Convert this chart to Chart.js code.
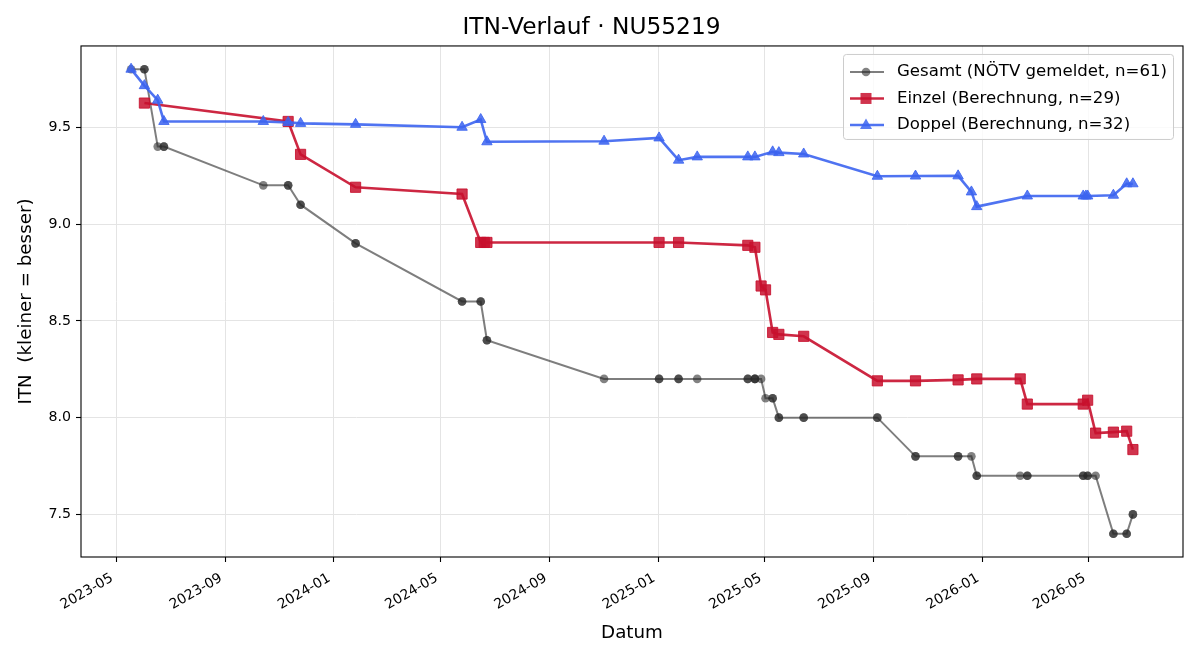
<!DOCTYPE html>
<html>
<head>
<meta charset="utf-8">
<script src="https://cdn.jsdelivr.net/npm/chart.js@4.4.1/dist/chart.umd.min.js"></script>
<style>
  html, body { margin: 0; padding: 0; background: #fff; }
</style>
</head>
<body>
<canvas id="itnChart" width="1200" height="660"></canvas>
<script>
// Gesamt (NÖTV): doppelte Datumswerte = mehrere Meldungen am selben Tag
const gesamtDaten = [
  '2023-05-18', '2023-06-02', '2023-06-02', '2023-06-17', '2023-06-24', '2023-06-24',
  '2023-10-14', '2023-11-11', '2023-11-11', '2023-11-25', '2023-11-25',
  '2024-01-26', '2024-01-26', '2024-05-25', '2024-05-25', '2024-06-15', '2024-06-15',
  '2024-06-22', '2024-06-22', '2024-11-01', '2025-01-02', '2025-01-02',
  '2025-01-24', '2025-01-24', '2025-02-14', '2025-04-12', '2025-04-12',
  '2025-04-20', '2025-04-20', '2025-04-20', '2025-04-27', '2025-05-02',
  '2025-05-10', '2025-05-10', '2025-05-17', '2025-05-17', '2025-06-14', '2025-06-14',
  '2025-09-05', '2025-09-05', '2025-10-18', '2025-10-18', '2025-12-05', '2025-12-05',
  '2025-12-20', '2025-12-26', '2025-12-26', '2026-02-13', '2026-02-21', '2026-02-21',
  '2026-04-25', '2026-04-25', '2026-04-30', '2026-04-30', '2026-05-09',
  '2026-05-29', '2026-05-29', '2026-06-13', '2026-06-13', '2026-06-20', '2026-06-20'
];
const gesamtWerte = [
  9.8, 9.8, 9.8, 9.4, 9.4, 9.4,
  9.2, 9.2, 9.2, 9.1, 9.1,
  8.9, 8.9, 8.6, 8.6, 8.6, 8.6,
  8.4, 8.4, 8.2, 8.2, 8.2,
  8.2, 8.2, 8.2, 8.2, 8.2,
  8.2, 8.2, 8.2, 8.2, 8.1,
  8.1, 8.1, 8.0, 8.0, 8.0, 8.0,
  8.0, 8.0, 7.8, 7.8, 7.8, 7.8,
  7.8, 7.7, 7.7, 7.7, 7.7, 7.7,
  7.7, 7.7, 7.7, 7.7, 7.7,
  7.4, 7.4, 7.4, 7.4, 7.5, 7.5
];

// Einzel (Berechnung)
const einzelDaten = [
  '2023-06-02', '2023-11-11', '2023-11-25', '2024-01-26', '2024-05-25',
  '2024-06-15', '2024-06-19', '2024-06-22', '2025-01-02', '2025-01-24',
  '2025-04-12', '2025-04-20', '2025-04-27', '2025-05-02', '2025-05-10',
  '2025-05-17', '2025-06-14', '2025-09-05', '2025-10-18', '2025-12-05',
  '2025-12-26', '2026-02-13', '2026-02-21', '2026-04-25', '2026-04-30',
  '2026-05-09', '2026-05-29', '2026-06-13', '2026-06-20'
];
const einzelWerte = [
  9.625, 9.53, 9.36, 9.19, 9.155,
  8.905, 8.905, 8.905, 8.905, 8.905,
  8.89, 8.88, 8.68, 8.66, 8.44,
  8.43, 8.42, 8.19, 8.19, 8.195,
  8.2, 8.2, 8.07, 8.07, 8.09,
  7.92, 7.925, 7.93, 7.835
];

// Doppel (Berechnung)
const doppelDaten = [
  '2023-05-18', '2023-06-02', '2023-06-17', '2023-06-24', '2023-10-14',
  '2023-11-11', '2023-11-25', '2024-01-26', '2024-05-25', '2024-06-15',
  '2024-06-22', '2024-11-01', '2025-01-02', '2025-01-24', '2025-02-14',
  '2025-04-12', '2025-04-20', '2025-05-10', '2025-05-17', '2025-06-14',
  '2025-09-05', '2025-10-18', '2025-12-05', '2025-12-20', '2025-12-26',
  '2026-02-21', '2026-04-25', '2026-04-28', '2026-04-30', '2026-05-29',
  '2026-06-13', '2026-06-20'
];
const doppelWerte = [
  9.8, 9.715, 9.64, 9.53, 9.53,
  9.525, 9.52, 9.515, 9.5, 9.54,
  9.425, 9.428, 9.445, 9.33, 9.347,
  9.347, 9.347, 9.373, 9.369, 9.362,
  9.247, 9.248, 9.249, 9.166, 9.09,
  9.145, 9.145, 9.145, 9.145, 9.149,
  9.208, 9.208
];

const xTickLabels = ['2023-05', '2023-09', '2024-01', '2024-05', '2024-09',
  '2025-01', '2025-05', '2025-09', '2026-01', '2026-05'];
const yTicks = [7.5, 8.0, 8.5, 9.0, 9.5];

const FONT = '"DejaVu Sans", sans-serif';
Chart.defaults.font.family = FONT;
Chart.defaults.color = '#000';

function punkte(daten, werte) {
  return daten.map((d, i) => ({ x: Date.parse(d), y: werte[i] }));
}

// Achsengrenzen wie bei matplotlib: 5 % Rand
const alleX = [...gesamtDaten, ...einzelDaten, ...doppelDaten].map(d => Date.parse(d));
const alleY = [...gesamtWerte, ...einzelWerte, ...doppelWerte];
const xMin = Math.min(...alleX), xMax = Math.max(...alleX);
const yMin = Math.min(...alleY), yMax = Math.max(...alleY);
const xRand = (xMax - xMin) * 0.05, yRand = (yMax - yMin) * 0.05;

function monat(v) {
  const d = new Date(v);
  return d.getUTCFullYear() + '-' + String(d.getUTCMonth() + 1).padStart(2, '0');
}

// Rahmen + Legende im Plotbereich
const rahmenUndLegende = {
  id: 'rahmenUndLegende',
  afterDraw(chart) {
    const { ctx, chartArea: a } = chart;
    ctx.save();
    ctx.strokeStyle = '#000';
    ctx.lineWidth = 1.1;
    ctx.strokeRect(a.left, a.top, a.right - a.left, a.bottom - a.top);

    const w = 330, h = 85;
    const x0 = a.right - 10 - w, y0 = a.top + 8;
    ctx.beginPath();
    ctx.roundRect(x0 + 0.5, y0 + 0.5, w, h, 3);
    ctx.fillStyle = 'rgba(255,255,255,0.8)';
    ctx.fill();
    ctx.strokeStyle = '#cccccc';
    ctx.lineWidth = 1;
    ctx.stroke();

    ctx.font = '16.6px ' + FONT;
    ctx.textBaseline = 'middle';
    chart.data.datasets.forEach((ds, i) => {
      const y = y0 + 18 + i * 26.5;
      const lx = x0 + 7, mx = x0 + 23;
      ctx.strokeStyle = ds.borderColor;
      ctx.lineWidth = ds.borderWidth;
      ctx.beginPath();
      ctx.moveTo(lx, y);
      ctx.lineTo(lx + 34, y);
      ctx.stroke();
      ctx.fillStyle = ds.pointBackgroundColor;
      ctx.beginPath();
      if (ds.pointStyle === 'circle') {
        ctx.arc(mx, y, 4.3, 0, Math.PI * 2);
      } else if (ds.pointStyle === 'rect') {
        ctx.rect(mx - 5.5, y - 5.5, 11, 11);
      } else {
        ctx.moveTo(mx, y - 6.5);
        ctx.lineTo(mx + 6, y + 4);
        ctx.lineTo(mx - 6, y + 4);
        ctx.closePath();
      }
      ctx.fill();
      ctx.fillStyle = '#000';
      ctx.fillText(ds.label, x0 + 54, y);
    });
    ctx.restore();
  }
};

const ctx = document.getElementById('itnChart').getContext('2d');
const itnChart = new Chart(ctx, {
  type: 'line',
  data: {
    datasets: [
      {
        label: 'Gesamt (NÖTV gemeldet, n=61)',
        data: punkte(gesamtDaten, gesamtWerte),
        borderColor: 'rgba(40,40,40,0.6)',
        borderWidth: 2,
        pointStyle: 'circle',
        pointRadius: 4.3,
        pointBackgroundColor: 'rgba(40,40,40,0.58)',
        pointBorderColor: 'rgba(40,40,40,0)',
        pointBorderWidth: 0,
        order: 3
      },
      {
        label: 'Einzel (Berechnung, n=29)',
        data: punkte(einzelDaten, einzelWerte),
        borderColor: 'rgba(200,16,46,0.9)',
        borderWidth: 2.6,
        pointStyle: 'rect',
        pointRadius: 7.2,
        pointBackgroundColor: 'rgba(200,16,46,0.85)',
        pointBorderColor: 'rgba(200,16,46,0.85)',
        pointBorderWidth: 1,
        order: 2
      },
      {
        label: 'Doppel (Berechnung, n=32)',
        data: punkte(doppelDaten, doppelWerte),
        borderColor: 'rgba(60,100,240,0.9)',
        borderWidth: 2.6,
        pointStyle: 'triangle',
        pointRadius: 6,
        pointBackgroundColor: 'rgba(60,100,240,0.85)',
        pointBorderColor: 'rgba(60,100,240,0.85)',
        pointBorderWidth: 1,
        order: 1
      }
    ]
  },
  options: {
    responsive: false,
    devicePixelRatio: 1,
    animation: false,
    events: [],
    layout: { padding: { left: 0, right: 17, top: 0, bottom: 0 } },
    plugins: {
      legend: { display: false },
      tooltip: { enabled: false },
      title: {
        display: true,
        text: 'ITN-Verlauf · NU55219',
        color: '#000',
        font: { size: 23.3, weight: 'normal' },
        padding: { top: 14, bottom: 4 }
      }
    },
    scales: {
      x: {
        type: 'linear',
        min: xMin - xRand,
        max: xMax + xRand,
        afterBuildTicks: scale => {
          scale.ticks = xTickLabels.map(t => ({ value: Date.parse(t + '-01') }));
        },
        afterFit: scale => { scale.height = 103; },
        ticks: {
          autoSkip: false,
          minRotation: 30,
          maxRotation: 30,
          padding: 8,
          labelOffset: -4,
          color: '#000',
          font: { size: 13.9 },
          callback: v => monat(v)
        },
        grid: {
          color: '#e4e4e4',
          lineWidth: 1,
          tickColor: '#000',
          tickLength: 5,
          tickWidth: 1.1
        },
        border: { display: false },
        title: {
          display: true,
          text: 'Datum',
          color: '#000',
          font: { size: 18.3 },
          padding: { top: 4, bottom: 16 }
        }
      },
      y: {
        min: yMin - yRand,
        max: yMax + yRand,
        afterBuildTicks: scale => {
          scale.ticks = yTicks.map(v => ({ value: v }));
        },
        afterFit: scale => { scale.width = 81; },
        ticks: {
          padding: 5,
          color: '#000',
          font: { size: 14.2 },
          callback: v => v.toFixed(1)
        },
        grid: {
          color: '#e4e4e4',
          lineWidth: 1,
          tickColor: '#000',
          tickLength: 5,
          tickWidth: 1.1
        },
        border: { display: false },
        title: {
          display: true,
          text: 'ITN  (kleiner = besser)',
          color: '#000',
          font: { size: 18.3 },
          padding: { top: 15, bottom: 4 }
        }
      }
    }
  },
  plugins: [rahmenUndLegende]
});
</script>
</body>
</html>
